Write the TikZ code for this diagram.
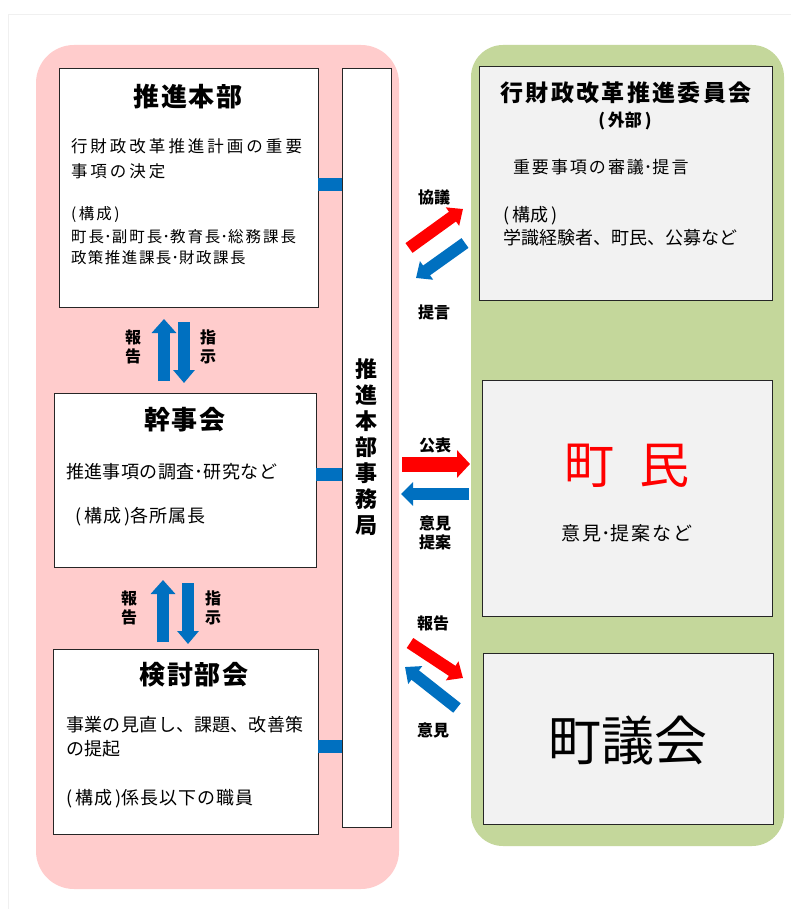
\documentclass[tikz,border=0pt]{standalone}
\usepackage{fontspec}
\setmainfont{Noto Sans CJK JP}
\usetikzlibrary{arrows.meta,calc}
\definecolor{pinkbg}{HTML}{FFCCCC}
\definecolor{greenbg}{HTML}{C4D79B}
\definecolor{myblue}{HTML}{0070C0}
\definecolor{myred}{HTML}{FF0000}
\definecolor{boxgray}{HTML}{F2F2F2}
\newdimen\cjkgap
\newXeTeXintercharclass\mycjkclass
\newcount\mycnt
\newcommand\setcjkrange[2]{%
  \mycnt=#1\relax
  \loop
    \XeTeXcharclass\mycnt=\mycjkclass
    \advance\mycnt by 1\relax
  \ifnum\mycnt<#2\relax\repeat}
\setcjkrange{"3041}{"30FB}
\setcjkrange{"4E00}{"A000}
\XeTeXinterchartoks\mycjkclass\mycjkclass = {\hskip\cjkgap\relax}
\newcommand\gapped[2]{{\cjkgap=#1\relax\XeTeXinterchartokenstate=1 #2}}
\newcommand\fsz[1]{\fontsize{#1}{#1}\selectfont}
\begin{document}
\begin{tikzpicture}[x=1pt,y=-1pt,
  every node/.style={inner sep=0pt,outer sep=0pt},
  wbox/.style={draw=black!85,line width=1pt,fill=white,anchor=north west},
  gbox/.style={draw=black!85,line width=1pt,fill=boxgray,anchor=north west},
  title/.style={font=\fsz{26}\bfseries},
  body/.style={anchor=west,font=\fsz{17}},
  lab/.style={font=\fontsize{16}{19.5}\selectfont\bfseries,align=center},
  bar/.style={myblue,line width=13pt},
  vup/.style={myblue,line width=12pt,-{Triangle[length=14pt,width=24pt]}},
  vdown/.style={myblue,line width=12pt,-{Triangle[length=13pt,width=21pt]}},
  hred/.style={myred,line width=15pt,-{Triangle[length=13pt,width=27pt]}},
  hblue/.style={myblue,line width=12pt,-{Triangle[length=12pt,width=23pt]}},
  dred/.style={myred,line width=12pt,-{Triangle[length=13pt,width=22pt]}},
  dblue/.style={myblue,line width=12pt,-{Triangle[length=13pt,width=22pt]}}]
\useasboundingbox (0,0) rectangle (791,909);
\fill[white] (0,0) rectangle (791,909);
\draw[black!6,line width=1pt] (8,909) -- (8,15) -- (791,15);
% panels
\fill[pinkbg,rounded corners=38pt] (36,45) rectangle (399,889);
\fill[greenbg,rounded corners=32pt] (471,45) rectangle (784,846);
% left boxes
\node[wbox,minimum width=259pt,minimum height=238pt] (hq) at (59,69) {};
\node[wbox,minimum width=262pt,minimum height=174pt] (kanji) at (54,393) {};
\node[wbox,minimum width=265pt,minimum height=185pt] (kento) at (53,649) {};
\node[wbox,minimum width=49pt,minimum height=758pt] (jimu) at (342,69) {};
% right boxes
\node[gbox,minimum width=293pt,minimum height=233pt] (iin) at (479,67) {};
\node[gbox,minimum width=290pt,minimum height=236pt] (chomin) at (482,380) {};
\node[gbox,minimum width=290pt,minimum height=171pt] (gikai) at (483,653) {};
% bars to jimukyoku
\draw[bar] ([yshift=3pt]hq.east) -- ([yshift=3pt]hq.east -| jimu.west);
\draw[bar] ([yshift=6pt]kanji.east) -- ([yshift=6pt]kanji.east -| jimu.west);
\draw[bar] ([yshift=-4.5pt]kento.east) -- ([yshift=-4.5pt]kento.east -| jimu.west);
% texts of hq
\node[title] (hqT) at (188,97) {\gapped{1.5pt}{推進本部}};
\node[body,font=\fsz{16.5}] (hqA) at (71,146) {\gapped{3pt}{行財政改革推進計画の重要}};
\node[body,font=\fsz{16.5}] (hqB) at (71,171) {\gapped{3pt}{事項の決定}};
\node[body,font=\fsz{15.5}] (hqC) at (71,215) {(\,\gapped{2pt}{構成}\,)};
\node[body,font=\fsz{15.5}] (hqD) at (71,237) {\gapped{2pt}{町長･副町長･教育長･総務課長}};
\node[body,font=\fsz{15.5}] (hqE) at (71,258) {\gapped{1.5pt}{政策推進課長･財政課長}};
% texts of kanji
\node[title] (kanjiT) at (185,420) {\gapped{1.5pt}{幹事会}};
\node[body,font=\fsz{18}] (kanjiA) at (66,472) {\gapped{0.5pt}{推進事項の調査･研究など}};
\node[body,font=\fsz{18}] (kanjiB) at (75,517) {(\,\gapped{1pt}{構成}\,)\gapped{1pt}{各所属長}};
% texts of kento
\node[title] (kentoT) at (194,675) {\gapped{1.5pt}{検討部会}};
\node[body,font=\fsz{18}] (kentoA) at (66,725) {\gapped{0.5pt}{事業の見直し、課題、改善策}};
\node[body,font=\fsz{18}] (kentoB) at (66,749) {\gapped{0.5pt}{の提起}};
\node[body,font=\fsz{18}] (kentoC) at (66,799) {(\,\gapped{1pt}{構成}\,)\gapped{1pt}{係長以下の職員}};
% jimukyoku vertical text
\node[font=\fontsize{22}{26.1}\selectfont\bfseries,align=center] (jimuT) at (366,447) {推\\進\\本\\部\\事\\務\\局};
% right texts
\node[font=\fsz{23}\bfseries] (iinT) at (626,93) {\gapped{2.3pt}{行財政改革推進委員会}};
\node[font=\fsz{17}\bfseries] (iinS) at (625,121) {(\,外部\,)};
\node[body,font=\fsz{17}] (iinA) at (513,167) {\gapped{2pt}{重要事項の審議･提言}};
\node[body,font=\fsz{18}] (iinB) at (503,216) {(\,構成\,)};
\node[body,font=\fsz{18}] (iinC) at (503,238) {\gapped{0pt}{学識経験者、町民、公募など}};
\node[font=\fsz{50},text=myred] (chominT) at (627,466) {町\hspace{0.5em}民};
\node[font=\fsz{19}] (chominA) at (627,533) {\gapped{2pt}{意見･提案など}};
\node[font=\fsz{53}] (gikaiT) at (628,741) {町議会};
% vertical arrows left
\coordinate (u1s) at (164,381); \coordinate (u1e) at (164,319);
\coordinate (d1s) at (184,322); \coordinate (d1e) at (184,383);
\coordinate (u2s) at (163,642); \coordinate (u2e) at (163,580);
\coordinate (d2s) at (188,583); \coordinate (d2e) at (188,644);
\draw[vup] (u1s) -- (u1e);
\draw[vdown] (d1s) -- (d1e);
\draw[vup] (u2s) -- (u2e);
\draw[vdown] (d2s) -- (d2e);
\node[lab] (rep1) at (133,347) {報\\告};
\node[lab] (ins1) at (208,347) {指\\示};
\node[lab] (rep2) at (129,608) {報\\告};
\node[lab] (ins2) at (213,608) {指\\示};
% arrows between panels
\coordinate (a1s) at (409,248); \coordinate (a1e) at (463,209);
\coordinate (b1s) at (465,243); \coordinate (b1e) at (416,278);
\coordinate (a2s) at (402,464); \coordinate (a2e) at (470,464);
\coordinate (b2s) at (469,494); \coordinate (b2e) at (401,494);
\coordinate (a3s) at (410,643); \coordinate (a3e) at (463,678);
\coordinate (b3s) at (457,708); \coordinate (b3e) at (405,667);
\draw[dred] (a1s) -- (a1e);
\draw[dblue] (b1s) -- (b1e);
\draw[hred] (a2s) -- (a2e);
\draw[hblue] (b2s) -- (b2e);
\draw[dred] (a3s) -- (a3e);
\draw[dblue] (b3s) -- (b3e);
\node[lab] (kyogi) at (434,197) {協議};
\node[lab] (teigen) at (434,312) {提言};
\node[lab] (koho) at (435,445) {公表};
\node[lab] (iken1) at (435,533) {意見\\提案};
\node[lab] (hokoku) at (433,623) {報告};
\node[lab] (iken2) at (433,730) {意見};
\end{tikzpicture}
\end{document}
